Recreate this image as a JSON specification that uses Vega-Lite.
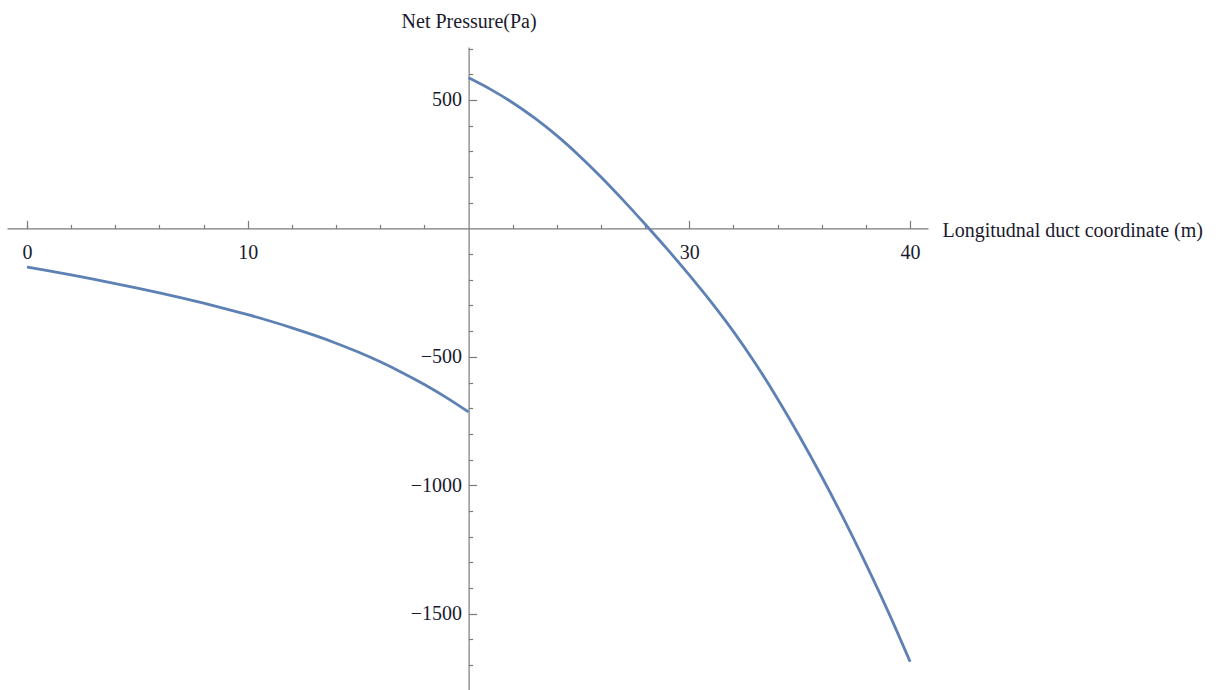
{
  "$schema": "https://vega.github.io/schema/vega-lite/v6.json",
  "autosize": "none",
  "width": 921,
  "height": 643,
  "padding": {"left": 7, "top": 47, "right": 288, "bottom": 0},
  "background": "white",
  "config": {
    "view": {"stroke": null},
    "axis": {
      "grid": false,
      "domainColor": "#7a7a7a",
      "tickColor": "#7a7a7a",
      "domainWidth": 1.2,
      "tickWidth": 1.2,
      "labelFont": "Liberation Serif",
      "labelFontSize": 20,
      "labelColor": "#1a1a2e",
      "titleFont": "Liberation Serif",
      "titleFontSize": 20,
      "titleFontWeight": "normal",
      "titleColor": "#1a1a2e"
    }
  },
  "data": {
    "values": [
      {"x": 0, "p": -150, "branch": "inlet"},
      {"x": 1, "p": -165.5, "branch": "inlet"},
      {"x": 2, "p": -181.5, "branch": "inlet"},
      {"x": 3, "p": -198, "branch": "inlet"},
      {"x": 4, "p": -215, "branch": "inlet"},
      {"x": 5, "p": -232.8, "branch": "inlet"},
      {"x": 6, "p": -251.4, "branch": "inlet"},
      {"x": 7, "p": -270.9, "branch": "inlet"},
      {"x": 8, "p": -291.4, "branch": "inlet"},
      {"x": 9, "p": -313, "branch": "inlet"},
      {"x": 10, "p": -336, "branch": "inlet"},
      {"x": 11, "p": -360.6, "branch": "inlet"},
      {"x": 12, "p": -387.1, "branch": "inlet"},
      {"x": 13, "p": -415.8, "branch": "inlet"},
      {"x": 14, "p": -447.1, "branch": "inlet"},
      {"x": 15, "p": -481.5, "branch": "inlet"},
      {"x": 16, "p": -519.5, "branch": "inlet"},
      {"x": 17, "p": -561.7, "branch": "inlet"},
      {"x": 18, "p": -607.7, "branch": "inlet"},
      {"x": 19, "p": -658.7, "branch": "inlet"},
      {"x": 20, "p": -714.7, "branch": "inlet"},
      {"x": 20, "p": 586, "branch": "outlet"},
      {"x": 21, "p": 541, "branch": "outlet"},
      {"x": 22, "p": 489, "branch": "outlet"},
      {"x": 23, "p": 429, "branch": "outlet"},
      {"x": 24, "p": 361, "branch": "outlet"},
      {"x": 25, "p": 284, "branch": "outlet"},
      {"x": 26, "p": 200, "branch": "outlet"},
      {"x": 27, "p": 110, "branch": "outlet"},
      {"x": 28, "p": 16, "branch": "outlet"},
      {"x": 29, "p": -81, "branch": "outlet"},
      {"x": 30, "p": -182, "branch": "outlet"},
      {"x": 31, "p": -288, "branch": "outlet"},
      {"x": 32, "p": -402, "branch": "outlet"},
      {"x": 33, "p": -527, "branch": "outlet"},
      {"x": 34, "p": -664, "branch": "outlet"},
      {"x": 35, "p": -811, "branch": "outlet"},
      {"x": 36, "p": -967, "branch": "outlet"},
      {"x": 37, "p": -1132, "branch": "outlet"},
      {"x": 38, "p": -1307, "branch": "outlet"},
      {"x": 39, "p": -1491, "branch": "outlet"},
      {"x": 40, "p": -1687, "branch": "outlet"}
    ]
  },
  "resolve": {"axis": {"x": "independent", "y": "independent"}},
  "layer": [
    {
      "mark": {"type": "point", "opacity": 0},
      "encoding": {
        "x": {
          "field": "x", "type": "quantitative",
          "scale": {"domain": [-0.906, 40.81], "nice": false, "zero": false},
          "axis": {
            "orient": "bottom", "offset": -461.6, "title": null,
            "values": [0, 2, 4, 6, 8, 12, 14, 16, 18, 22, 24, 26, 28, 32, 34, 36, 38],
            "tickSize": -4, "labels": false, "domain": false
          }
        },
        "y": {
          "field": "p", "type": "quantitative",
          "scale": {"domain": [-1797, 706], "nice": false, "zero": false},
          "axis": {
            "orient": "left", "offset": -461.6, "title": null,
            "values": [-1700, -1600, -1400, -1300, -1200, -1100, -900, -800, -700, -600, -400, -300, -200, -100, 100, 200, 300, 400, 600, 700],
            "tickSize": -4, "labels": false, "domain": false
          }
        }
      }
    },
    {
      "mark": {"type": "line", "color": "#5E81B5", "strokeWidth": 2.8, "interpolate": "monotone"},
      "encoding": {
        "x": {
          "field": "x", "type": "quantitative",
          "axis": {
            "orient": "bottom", "offset": -461.6,
            "values": [0, 10, 30, 40], "format": "d",
            "tickSize": -8, "labelPadding": 22, "labelFlush": false,
            "title": "Longitudnal duct coordinate (m)",
            "titleAngle": 0, "titleAlign": "left", "titleBaseline": "alphabetic",
            "titleX": 935, "titleY": 8
          }
        },
        "y": {
          "field": "p", "type": "quantitative",
          "axis": {
            "orient": "left", "offset": -461.6,
            "values": [-1500, -1000, -500, 500], "format": "d",
            "tickSize": -8, "labelPadding": 15, "labelFlush": false,
            "title": "Net Pressure(Pa)",
            "titleAngle": 0, "titleAlign": "center", "titleBaseline": "alphabetic",
            "titleX": 0, "titleY": -20
          }
        },
        "detail": {"field": "branch", "type": "nominal"}
      }
    }
  ]
}
